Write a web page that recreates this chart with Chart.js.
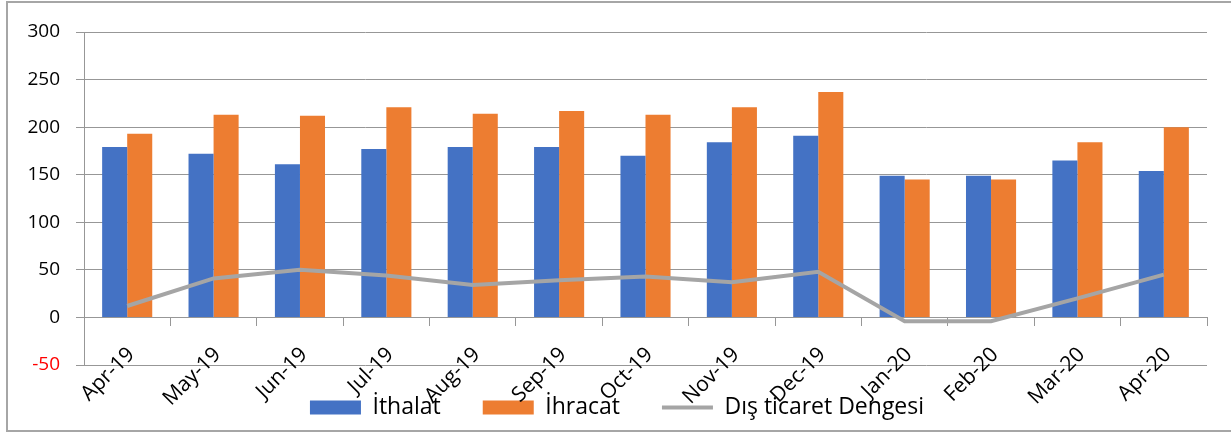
<!DOCTYPE html>
<html lang="tr">
<head>
<meta charset="utf-8">
<script src="https://cdn.jsdelivr.net/npm/chart.js@4.4.0/dist/chart.umd.min.js"></script>
<style>
  html, body { margin: 0; padding: 0; background: #ffffff; }
  #wrap { position: relative; width: 1231px; height: 432px; overflow: hidden; }
  #frame { position: absolute; left: 6px; top: 1px; width: 1300px; height: 431px;
           box-sizing: border-box; border: 2px solid #a6a6a6; pointer-events: none; }
  canvas { position: absolute; left: 0; top: 0; }
</style>
</head>
<body>
<div id="wrap">
  <canvas id="c" width="1231" height="432"></canvas>
  <div id="frame"></div>
</div>
<script>
// Monthly foreign trade figures
const months  = ['Apr-19', 'May-19', 'Jun-19', 'Jul-19', 'Aug-19', 'Sep-19', 'Oct-19',
                 'Nov-19', 'Dec-19', 'Jan-20', 'Feb-20', 'Mar-20', 'Apr-20'];
const ithalat = [179, 172, 161, 177, 179, 179, 170, 184, 191, 149, 149, 165, 154];
const ihracat = [193, 213, 212, 221, 214, 217, 213, 221, 237, 145, 145, 184, 200];
const denge   = [12, 41, 50, 44, 34, 39, 43, 37, 48, -4, -4, 20, 45];

// Value axis range
const yMin = -50;
const yMax = 300;
const yStep = 50;

const FONT = "'Open Sans', 'Liberation Sans', sans-serif";
const GRID = '#979797';
const BLUE = '#4472C4';
const ORANGE = '#ED7D31';
const GREY = '#A5A5A5';

new Chart(document.getElementById('c'), {
  type: 'bar',
  data: {
    labels: months,
    datasets: [
      { label: 'İthalat', data: ithalat, backgroundColor: BLUE, borderWidth: 0, order: 1,
        categoryPercentage: 0.58, barPercentage: 1.0 },
      { label: 'İhracat', data: ihracat, backgroundColor: ORANGE, borderWidth: 0, order: 1,
        categoryPercentage: 0.58, barPercentage: 1.0 },
      { type: 'line', label: 'Dış ticaret Dengesi', data: denge, borderColor: GREY,
        backgroundColor: GREY, borderWidth: 4, pointRadius: 0, tension: 0, fill: false, order: 0 }
    ]
  },
  options: {
    responsive: false,
    animation: false,
    devicePixelRatio: 1,
    layout: { padding: { top: 32, left: 27, right: 24, bottom: 3 } },
    scales: {
      x: {
        type: 'category',
        position: { y: 0 },
        offset: true,
        grid: { offset: true, drawOnChartArea: false, drawTicks: true, tickLength: 8,
                color: GRID, lineWidth: 1 },
        border: { display: true, color: GRID, width: 1 },
        ticks: { autoSkip: false, minRotation: 45, maxRotation: 45, padding: 17, labelOffset: 4,
                 color: '#000000', font: { family: FONT, size: 21 } }
      },
      y: {
        min: yMin,
        max: yMax,
        ticks: { stepSize: yStep, padding: 16,
                 color: (ctx) => (ctx.tick && ctx.tick.value < 0 ? '#ff0000' : '#000000'),
                 font: { family: FONT, size: 19 } },
        grid: { color: GRID, lineWidth: 1, drawTicks: true, tickLength: 8 },
        border: { display: true, color: GRID, width: 1 },
        afterFit: (scale) => { scale.width = 57; }
      }
    },
    plugins: {
      tooltip: { enabled: false },
      legend: {
        position: 'bottom',
        // empty title with negative padding keeps the legend row tight under the plot
        title: { display: true, text: '', font: { size: 1, lineHeight: 1 },
                 padding: { top: -12, bottom: 0 } },
        labels: {
          usePointStyle: true,
          pointStyleWidth: 51,
          boxHeight: 14,
          padding: 42,
          color: '#000000',
          font: { family: FONT, size: 23 },
          sort: (a, b) => a.datasetIndex - b.datasetIndex,
          generateLabels: (chart) => {
            const items = Chart.defaults.plugins.legend.labels.generateLabels(chart);
            items.forEach((it) => {
              const ds = chart.data.datasets[it.datasetIndex];
              if (ds.type === 'line') {
                it.pointStyle = 'line';
                it.strokeStyle = ds.borderColor;
                it.lineWidth = 4;
              } else {
                it.pointStyle = 'rect';
                it.fillStyle = ds.backgroundColor;
                it.strokeStyle = ds.backgroundColor;
                it.lineWidth = 0;
              }
            });
            return items;
          }
        }
      }
    }
  }
});
</script>
</body>
</html>
